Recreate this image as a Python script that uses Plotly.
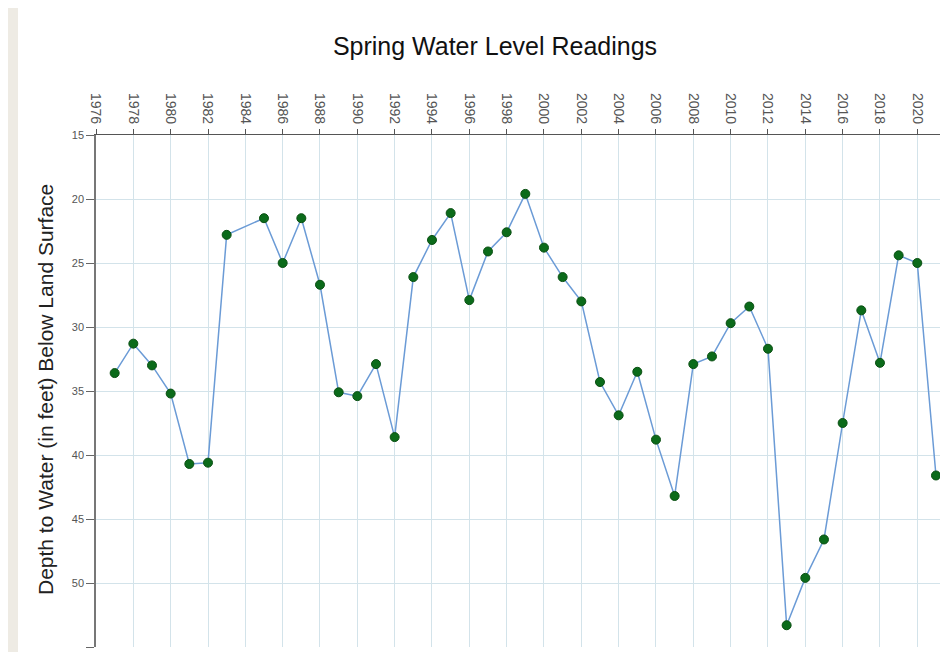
import plotly.graph_objects as go

years = [1977, 1978, 1979, 1980, 1981, 1982, 1983, 1985, 1986, 1987,
         1988, 1989, 1990, 1991, 1992, 1993, 1994, 1995, 1996, 1997,
         1998, 1999, 2000, 2001, 2002, 2003, 2004, 2005, 2006, 2007,
         2008, 2009, 2010, 2011, 2012, 2013, 2014, 2015, 2016, 2017,
         2018, 2019, 2020, 2021]
depth = [33.6, 31.3, 33.0, 35.2, 40.7, 40.6, 22.8, 21.5, 25.0, 21.5,
         26.7, 35.1, 35.4, 32.9, 38.6, 26.1, 23.2, 21.1, 27.9, 24.1,
         22.6, 19.6, 23.8, 26.1, 28.0, 34.3, 36.9, 33.5, 38.8, 43.2,
         32.9, 32.3, 29.7, 28.4, 31.7, 53.3, 49.6, 46.6, 37.5, 28.7,
         32.8, 24.4, 25.0, 41.6]

title_text = "Spring Water Level Readings"
y_title = "Depth to Water (in feet) Below Land Surface"

# page has an 8px body margin, so the figure is 8px smaller than the window
OFF = 8
W, H = 948 - OFF, 652 - OFF
ML, MT, MB = 96 - OFF, 135 - OFF, 5
plot_w = W - ML
plot_h = H - MT - MB

grid = "#d3e3ea"
font = "Liberation Sans, Arial, sans-serif"

fig = go.Figure()
fig.add_trace(go.Scatter(
    x=years, y=depth, mode="lines+markers",
    line=dict(color="#6b9bd6", width=1.5),
    marker=dict(color="#0b6b1a", size=9, line=dict(color="#0a4f12", width=1)),
    showlegend=False, hoverinfo="x+y",
))

fig.update_layout(
    width=W, height=H,
    margin=dict(l=ML, r=0, t=MT, b=MB, pad=0),
    paper_bgcolor="#eeebe4",
    plot_bgcolor="white",
    title=dict(text=title_text, xref="container", yref="container",
               x=(495 - OFF) / W, y=1 - (46 - OFF) / H,
               xanchor="center", yanchor="middle",
               font=dict(family=font, size=25, color="#111")),
    xaxis=dict(side="top", range=[1976, 1976 + plot_w / 18.666],
               tick0=1976, dtick=2, tickangle=90,
               ticks="outside", ticklen=5, tickcolor="#555",
               showline=True, linecolor="#555", linewidth=1,
               showgrid=True, gridcolor=grid, gridwidth=1, zeroline=False,
               tickfont=dict(family=font, size=14, color="#555")),
    yaxis=dict(range=[55, 15], tick0=15, dtick=5,
               ticks="outside", ticklen=8, tickcolor="#666",
               showline=True, linecolor="#777", linewidth=1.5,
               showgrid=True, gridcolor=grid, gridwidth=1, zeroline=False,
               tickfont=dict(family=font, size=11, color="#555")),
    shapes=[dict(type="rect", xref="paper", yref="paper", layer="below",
                 x0=(18 - 96) / plot_w, x1=1.05,
                 y0=-0.05, y1=1 + MT / plot_h + 0.05,
                 fillcolor="white", line=dict(width=0))],
    annotations=[dict(text=y_title, xref="paper", yref="paper",
                      x=(45 - 96) / plot_w, y=(652 - MB - OFF - 390 + OFF) / plot_h,
                      xanchor="center", yanchor="middle", textangle=-90,
                      showarrow=False,
                      font=dict(family=font, size=21, color="#222"))],
)

fig.write_html("out.html")
